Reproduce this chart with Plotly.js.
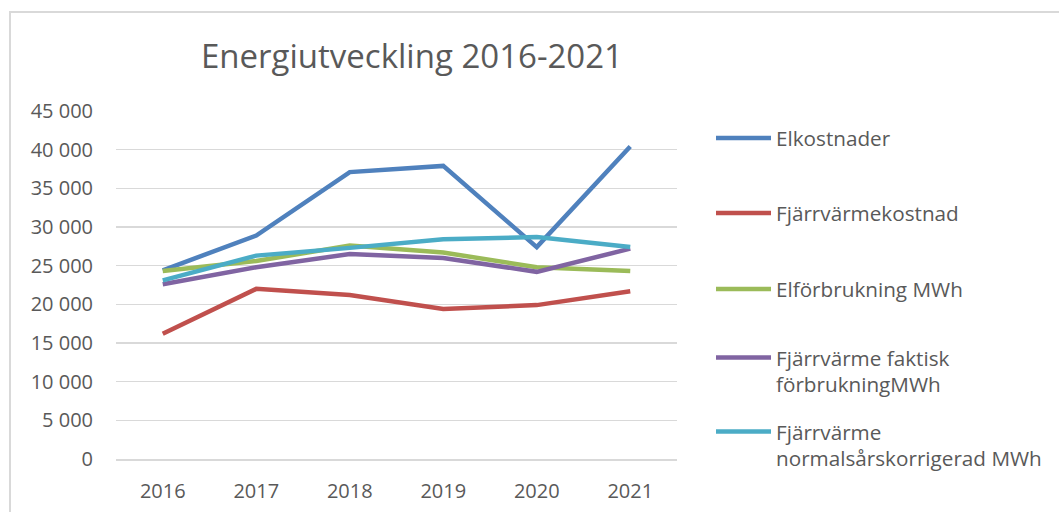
<!DOCTYPE html>
<html>
<head>
<meta charset="utf-8">
<script src="https://cdn.plot.ly/plotly-3.0.1.min.js"></script>
<style>
  html, body { margin: 0; padding: 0; background: #ffffff; }
  #wrap { position: relative; width: 1059px; height: 512px; overflow: hidden; }
  #chart { position: absolute; left: 0; top: 0; width: 1059px; height: 512px; }
  #frame { position: absolute; left: 9px; top: 11px; width: 1100px; height: 600px;
           border: 2px solid #d9d9d9; box-sizing: border-box; pointer-events: none; }
</style>
</head>
<body>
<div id="wrap">
  <div id="chart"></div>
  <div id="frame"></div>
</div>
<script>
const years = ['2016', '2017', '2018', '2019', '2020', '2021'];
const elkostnader = [24400, 28900, 37100, 37900, 27400, 40400];
const fjarrvarmekostnad = [16200, 22000, 21200, 19400, 19900, 21700];
const elforbrukning = [24300, 25600, 27600, 26700, 24800, 24300];
const fjvFaktisk = [22600, 24800, 26500, 26000, 24200, 27200];
const fjvNormal = [23100, 26300, 27300, 28400, 28700, 27400];

const seriesNames = [
  'Elkostnader',
  'Fjärrvärmekostnad',
  'Elförbrukning MWh',
  'Fjärrvärme faktisk<br>förbrukningMWh',
  'Fjärrvärme<br>normalsårskorrigerad MWh'
];
const seriesValues = [elkostnader, fjarrvarmekostnad, elforbrukning, fjvFaktisk, fjvNormal];
const colors = ['#4F81BD', '#C0504D', '#9BBB59', '#8064A2', '#4BACC6'];
const legendIds = ['legend', 'legend2', 'legend3', 'legend4', 'legend5'];
const legendY = [138, 213, 289, 371, 445];

const traces = seriesValues.map((vals, i) => ({
  type: 'scatter',
  mode: 'lines',
  x: years,
  y: vals,
  name: seriesNames[i],
  legend: legendIds[i],
  line: { color: colors[i], width: 4.5 }
}));

const layout = {
  width: 1059,
  height: 512,
  margin: { l: 116, r: 382, t: 111, b: 53 },
  paper_bgcolor: 'rgba(0,0,0,0)',
  plot_bgcolor: 'rgba(0,0,0,0)',
  separators: ', ',
  font: { family: 'Open Sans, sans-serif', color: '#595959', size: 20 },
  title: {
    text: 'Energiutveckling 2016-2021',
    font: { family: 'Open Sans, sans-serif', size: 33, color: '#595959' },
    xref: 'container', yref: 'container',
    x: 412 / 1059, xanchor: 'center',
    y: 1 - 56 / 512, yanchor: 'middle'
  },
  xaxis: {
    type: 'category',
    range: [-0.5, 5.5],
    showgrid: false,
    showline: true,
    linecolor: '#d9d9d9',
    linewidth: 1.5,
    ticks: '',
    ticklabelstandoff: 13,
    tickfont: { size: 20, color: '#595959' }
  },
  yaxis: {
    range: [0, 45000],
    tick0: 0,
    dtick: 5000,
    tickformat: ',d',
    showgrid: true,
    gridcolor: '#d9d9d9',
    gridwidth: 1.5,
    zeroline: false,
    showline: false,
    ticks: '',
    ticklabelstandoff: 22,
    tickfont: { size: 20, color: '#595959' }
  },
  showlegend: true
};

legendIds.forEach((id, i) => {
  layout[id] = {
    xref: 'container', yref: 'container',
    x: 711 / 1059, xanchor: 'left',
    y: 1 - legendY[i] / 512, yanchor: 'middle',
    valign: 'top',
    bgcolor: 'rgba(0,0,0,0)',
    borderwidth: 0,
    itemwidth: 55,
    font: { size: 20.7, color: '#595959', family: 'Open Sans, sans-serif' }
  };
});

Plotly.newPlot('chart', traces, layout, { displayModeBar: false, staticPlot: true });
</script>
</body>
</html>
